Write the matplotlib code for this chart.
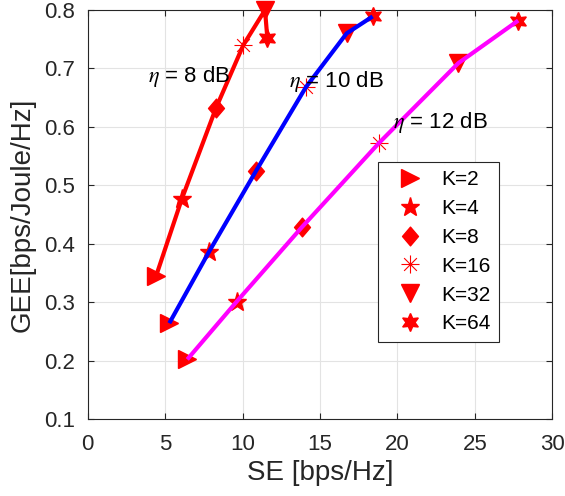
import numpy as np
import matplotlib
matplotlib.use("Agg")
import matplotlib.pyplot as plt
from matplotlib.lines import Line2D
from matplotlib.path import Path

plt.rcParams['font.family'] = ['Liberation Sans', 'DejaVu Sans']
plt.rcParams['mathtext.fontset'] = 'stix'

# SE / GEE for K = 2, 4, 8, 16, 32, 64 at each eta
k_labels = ['K=2', 'K=4', 'K=8', 'K=16', 'K=32', 'K=64']

se_8db = [4.42, 6.07, 8.28, 10.05, 11.45, 11.6]
gee_8db = [0.345, 0.476, 0.632, 0.740, 0.800, 0.752]

se_10db = [5.27, 7.83, 10.88, 14.09, 16.72, 18.4]
gee_10db = [0.264, 0.386, 0.525, 0.668, 0.760, 0.789]

se_12db = [6.43, 9.62, 13.82, 18.83, 23.93, 27.8]
gee_12db = [0.202, 0.301, 0.428, 0.573, 0.709, 0.782]

# eight-spoke asterisk
ang = np.deg2rad([0, 45, 90, 135])
verts, codes = [], []
for a in ang:
    verts += [(-np.cos(a), -np.sin(a)), (np.cos(a), np.sin(a))]
    codes += [Path.MOVETO, Path.LINETO]
asterisk = Path(verts, codes)

# slightly tall diamond
diamond = Path([(0, 1), (0.85, 0), (0, -1), (-0.85, 0), (0, 1)],
               [Path.MOVETO, Path.LINETO, Path.LINETO, Path.LINETO, Path.CLOSEPOLY])

markers = ['>', '*', diamond, asterisk, 'v', (6, 1, 0)]
msizes = [13, 14, 13.5, 13, 13, 13]
mew = [1.0, 1.0, 1.0, 0.8, 1.0, 1.0]

fig = plt.figure(figsize=(5.65, 4.96), dpi=100)
ax = fig.add_axes([0.1552, 0.1552, 0.8223, 0.8246])

curves = [(se_8db, gee_8db, 'red'), (se_10db, gee_10db, 'blue'), (se_12db, gee_12db, 'magenta')]
for se, gee, col in curves:
    for i in range(len(se)):
        ax.plot(se[i], gee[i], linestyle='none', marker=markers[i], markersize=msizes[i],
                color='red', markeredgecolor='red', markeredgewidth=mew[i], zorder=3,
                clip_on=False)
    ax.plot(se, gee, color=col, linewidth=3, zorder=4, solid_capstyle='butt')

ax.text(3.89, 0.687, r'$\eta$ = 8 dB', fontsize=16, ha='left', va='center', zorder=5)
ax.text(13.0, 0.678, r'$\eta$ = 10 dB', fontsize=16, ha='left', va='center', zorder=5)
ax.text(19.71, 0.608, r'$\eta$ = 12 dB', fontsize=16, ha='left', va='center', zorder=5)

ax.set_xlim(0, 30)
ax.set_ylim(0.1, 0.8)
ax.set_xticks(np.arange(0, 31, 5))
ax.set_yticks(np.arange(0.1, 0.81, 0.1))
ax.set_yticklabels(['%.1f' % v for v in np.arange(0.1, 0.81, 0.1)])
ax.grid(True, color='#e3e3e3', linewidth=0.8)
ax.set_axisbelow(True)
ax.tick_params(direction='in', length=4, width=0.8, top=True, right=True,
               labelsize=16, colors='#262626')
ax.tick_params(axis='x', pad=10.5)
ax.tick_params(axis='y', pad=9)
for s in ax.spines.values():
    s.set_color('#262626')
    s.set_linewidth(0.8)

ax.set_xlabel('SE [bps/Hz]', fontsize=20, color='#262626', labelpad=4)
ax.set_ylabel('GEE[bps/Joule/Hz]', fontsize=20, color='#262626', labelpad=6.5)

handles = [Line2D([], [], linestyle='none', marker=markers[i], markersize=msizes[i],
                  color='red', markeredgecolor='red', markeredgewidth=mew[i])
           for i in range(len(k_labels))]
leg = ax.legend(handles, k_labels, loc='upper left', bbox_to_anchor=(0.6249, 0.6284),
                fontsize=15, frameon=True, fancybox=False, framealpha=1,
                edgecolor='#262626', borderpad=0.4, labelspacing=0.47,
                handletextpad=0.33, handlelength=2.3, borderaxespad=0)
leg.get_frame().set_linewidth(0.8)

fig.savefig('out.png', dpi=100)
